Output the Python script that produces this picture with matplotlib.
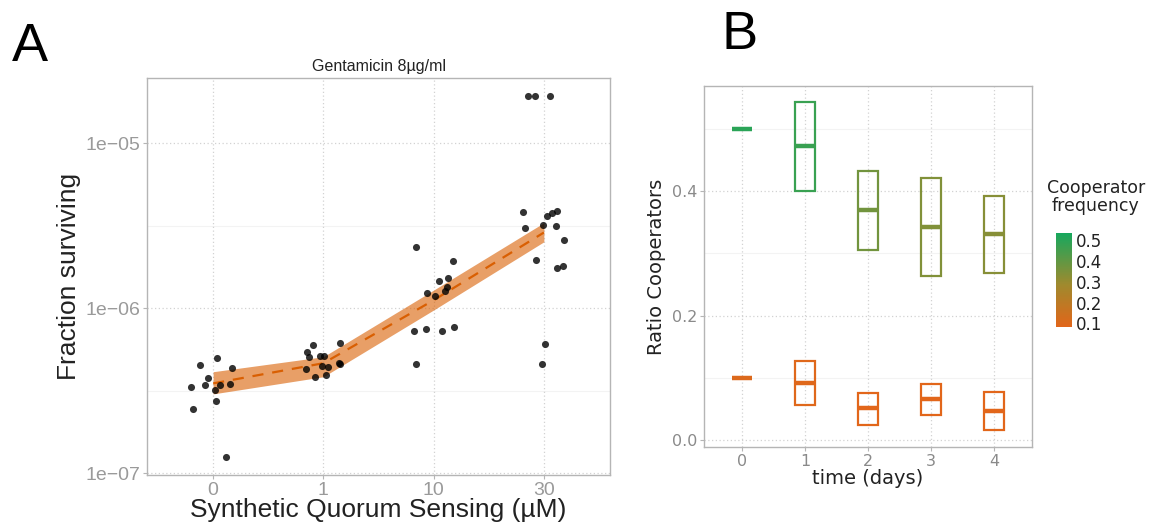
import numpy as np
import matplotlib
matplotlib.use("Agg")
import matplotlib.pyplot as plt
from matplotlib.colors import LinearSegmentedColormap, Normalize

# ---------------- Panel A data ----------------
conc_labels = ["0", "1", "10", "30"]
# jittered categorical positions (0..3) and surviving fractions
pos_0 = [-0.197, -0.181, -0.121, -0.076, -0.051, 0.015, 0.036, 0.024, 0.060, 0.115, 0.151, 0.169]
surv_0 = [3.35e-7, 2.44e-7, 4.54e-7, 3.43e-7, 3.77e-7, 3.20e-7, 4.98e-7, 2.74e-7, 3.43e-7, 1.26e-7, 3.46e-7, 4.37e-7]
pos_1 = [0.838, 0.847, 0.871, 0.907, 0.920, 0.968, 1.004, 0.992, 1.028, 1.044, 1.143, 1.149, 1.149]
surv_1 = [4.28e-7, 5.46e-7, 5.09e-7, 5.99e-7, 3.85e-7, 5.14e-7, 5.14e-7, 4.48e-7, 3.94e-7, 4.43e-7, 4.64e-7, 6.14e-7, 4.60e-7]
pos_10 = [1.839, 1.821, 1.839, 1.930, 1.936, 2.011, 2.051, 2.072, 2.102, 2.123, 2.132, 2.172, 2.184]
surv_10 = [2.37e-6, 7.33e-7, 4.60e-7, 7.46e-7, 1.24e-6, 1.18e-6, 1.47e-6, 7.33e-7, 1.28e-6, 1.35e-6, 1.52e-6, 1.94e-6, 7.74e-7]
pos_30 = [2.858, 2.919, 3.055, 2.813, 2.828, 2.928, 2.979, 3.010, 2.995, 3.031, 3.070, 3.116, 3.110, 3.182, 3.122, 3.170]
surv_30 = [1.94e-5, 1.94e-5, 1.94e-5, 3.85e-6, 3.05e-6, 1.96e-6, 4.58e-7, 6.08e-7, 3.20e-6, 3.63e-6, 3.77e-6, 3.91e-6, 3.15e-6, 2.60e-6, 1.75e-6, 1.81e-6]
fit_mean = [3.51e-7, 4.65e-7, 1.12e-6, 2.88e-6]
fit_low = [3.03e-7, 3.85e-7, 9.77e-7, 2.53e-6]
fit_high = [4.13e-7, 5.09e-7, 1.29e-6, 3.30e-6]

# ---------------- Panel B data ----------------
days = [0, 1, 2, 3, 4]
high_q1 = [0.500, 0.401, 0.305, 0.264, 0.268]
high_med = [0.500, 0.472, 0.369, 0.342, 0.331]
high_q3 = [0.500, 0.543, 0.432, 0.421, 0.393]
low_q1 = [0.100, 0.057, 0.024, 0.041, 0.016]
low_med = [0.100, 0.092, 0.051, 0.066, 0.047]
low_q3 = [0.100, 0.127, 0.076, 0.090, 0.078]
cbar_ticks = [0.1, 0.2, 0.3, 0.4, 0.5]

W, H = 1158, 528
fig = plt.figure(figsize=(W / 100, H / 100), dpi=100)

def fr(x0, y0, x1, y1):
    return [x0 / W, 1 - y1 / H, (x1 - x0) / W, (y1 - y0) / H]

spine_c = "#b5b5b5"

# ================= Panel A =================
axA = fig.add_axes(fr(147, 78, 610, 475))
axA.set_yscale("log")
axA.set_xlim(-0.6, 3.6)
axA.set_ylim(10 ** -7.01, 10 ** -4.604)
for yv in [10 ** -6.5, 10 ** -5.5]:
    axA.axhline(yv, color="#f3f3f3", lw=0.8, zorder=0)
for yv in [1e-7, 1e-6, 1e-5]:
    axA.axhline(yv, color="#d2d2d2", lw=0.9, ls=(0, (1, 2)), zorder=0)
for xv in range(4):
    axA.axvline(xv, color="#d2d2d2", lw=0.9, ls=(0, (1, 2)), zorder=0)

xs = np.arange(len(fit_mean))
axA.fill_between(xs, fit_low, fit_high, color="#D95F02", alpha=0.6, lw=0, zorder=2)
axA.plot(xs, fit_mean, color="#D95F02", lw=1.6, ls=(0, (5, 4)), zorder=3)
for p, s in [(pos_0, surv_0), (pos_1, surv_1), (pos_10, surv_10), (pos_30, surv_30)]:
    axA.scatter(p, s, s=26, color="black", alpha=0.8, lw=0, zorder=4)

axA.set_xticks(range(4))
axA.set_xticklabels(conc_labels)
axA.set_yticks([1e-7, 1e-6, 1e-5])
axA.set_yticklabels(["1e\u221207", "1e\u221206", "1e\u221205"])
axA.minorticks_off()
axA.tick_params(axis="both", colors=spine_c, labelcolor="#9a9a9a", labelsize=14, length=3, width=0.8, pad=2)
for lab in axA.get_xticklabels() + axA.get_yticklabels():
    lab.set_family("Liberation Sans")
for sp in axA.spines.values():
    sp.set_color(spine_c)
    sp.set_linewidth(1.0)
axA.set_title("Gentamicin 8\u00b5g/ml", fontsize=11.5, family="Liberation Sans", pad=5, color="#222222")
axA.set_xlabel("Synthetic Quorum Sensing (\u00b5M)", fontsize=19, family="Liberation Sans", labelpad=-1, color="#222222")
axA.set_ylabel("Fraction surviving", fontsize=19, family="Liberation Sans", labelpad=3, color="#222222")

fig.text(12 / W, 1 - 61 / H, "A", fontsize=39, family="Liberation Sans", va="baseline")
fig.text(722 / W, 1 - 49 / H, "B", fontsize=39, family="Liberation Sans", va="baseline")

# ================= Panel B =================
cmap = LinearSegmentedColormap.from_list(
    "coop", [(0.0, "#E2661A"), (0.45, "#A08A2E"), (1.0, "#17A85E")])
norm = Normalize(vmin=0.082, vmax=0.535)

axB = fig.add_axes(fr(704, 86, 1032, 447))
axB.set_xlim(-0.6, 4.6)
axB.set_ylim(-0.011, 0.569)
for yv in [0.1, 0.3, 0.5]:
    axB.axhline(yv, color="#f3f3f3", lw=0.8, zorder=0)
for yv in [0.0, 0.2, 0.4]:
    axB.axhline(yv, color="#d2d2d2", lw=0.9, ls=(0, (1, 2)), zorder=0)
for xv in days:
    axB.axvline(xv, color="#d2d2d2", lw=0.9, ls=(0, (1, 2)), zorder=0)

bw = 0.32
for q1s, meds, q3s in [(high_q1, high_med, high_q3), (low_q1, low_med, low_q3)]:
    for d, q1, m, q3 in zip(days, q1s, meds, q3s):
        c = cmap(norm(np.clip(m, 0.082, 0.535)))
        if q3 - q1 > 1e-6:
            axB.bar(d, q3 - q1, bottom=q1, width=bw, fill=False, edgecolor=c, lw=1.6, zorder=3)
        axB.plot([d - bw / 2, d + bw / 2], [m, m], color=c, lw=3.2, solid_capstyle="butt", zorder=4)

axB.set_xticks(days)
axB.set_yticks([0.0, 0.2, 0.4])
axB.set_yticklabels(["0.0", "0.2", "0.4"])
axB.tick_params(axis="both", colors=spine_c, labelcolor="#8a8a8a", labelsize=11.5, length=3, width=0.8, pad=2)
for sp in axB.spines.values():
    sp.set_color(spine_c)
    sp.set_linewidth(1.0)
axB.set_xlabel("time (days)", fontsize=14, labelpad=0, color="#222222")
axB.set_ylabel("Ratio Cooperators", fontsize=14, labelpad=4, color="#222222")

# colourbar legend
fig.text(1096 / W, 1 - 197 / H, "Cooperator\nfrequency", fontsize=12.5, ha="center", va="center",
         linespacing=1.05, color="#222222")
cax = fig.add_axes(fr(1056, 233, 1072, 327))
grad = np.linspace(0.082, 0.535, 256).reshape(-1, 1)
cax.imshow(grad, aspect="auto", cmap=cmap, norm=norm, origin="lower",
           extent=[0, 1, 0.082, 0.535], interpolation="bilinear")
cax.set_xlim(0, 1)
cax.set_ylim(0.082, 0.535)
cax.set_xticks([])
cax.yaxis.tick_right()
cax.set_yticks(cbar_ticks)
cax.set_yticklabels([f"{t:.1f}" for t in cbar_ticks])
cax.tick_params(axis="y", length=0, labelsize=12, labelcolor="#222222", pad=3)
for sp in cax.spines.values():
    sp.set_visible(False)

fig.savefig("out.png", dpi=100)
